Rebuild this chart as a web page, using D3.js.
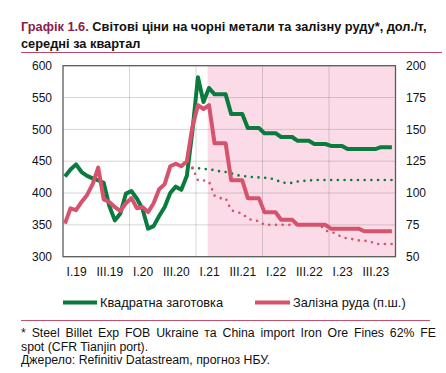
<!DOCTYPE html>
<html><head><meta charset="utf-8">
<script src="https://cdn.jsdelivr.net/npm/d3@7/dist/d3.min.js"></script>
<style>
html,body{margin:0;padding:0;background:#fff;}
svg{display:block;font-family:"Liberation Sans",Arial,sans-serif;}
</style></head>
<body>
<svg id="c" width="446" height="373"></svg>
<script>
// Monthly data, Jan 2019 .. Dec 2023 (index 0..59)
const billet = [426,437,445,433,427,423,420,416,380,357,
                368,399,403,391,375,344,348,364,378,400,
                410,405,427,497,582,543,565,555,555,555,
                524,524,524,502,502,502,494,494,494,488,
                488,488,482,482,482,477,477,477,474,474,
                474,469,469,469,469,469,469,472,472,472];
const ore = [76,88,86.5,93,98.5,107,120,95,93,89,
             86,92,96,88,89,85,92,103,107,121,
             123,121,125,152,169,166,169,139,139,139,
             110,110,110,96,96,96,85,85,85,79,
             79,79,75,75,75,75,75,75,72,72,
             72,72,72,72,70,70,70,70,70,70];
// Previous forecast (dotted), index 23..59
const prevStart = 23;
const billetPrev = [439,439,438,437,436,434,433,431,428,427,
                    426,425,424.5,424,423,421,417,415.5,416,418,
                    419,419.5,420.5,420.5,420.5,420.5,420.5,420.5,420.5,420.5,
                    420.5,420.5,420.5,420.5,420.5,420.5,420.5];
const orePrev = [120,110,110,109,98,96,96,86.5,85,84,
                 80,78.5,78,75,75,75,75,75,75,75,
                 75,75,75,75,70.5,69.6,68,65.2,64.5,63.7,
                 62.8,62.5,62.3,60,60,60,60];
const forecastStart = 26.1;
const xTickLabels = ["I.19","III.19","I.20","III.20","I.21","III.21","I.22","III.22","I.23","III.23"];
const leftTicks = [300,350,400,450,500,550,600];
const rightTicks = [50,75,100,125,150,175,200];
const titleRed = "Графік 1.6.";
const titleRest = " Світові ціни на чорні метали та залізну руду*, дол./т,";
const title2 = "середні за квартал";
const legendLabels = ["Квадратна заготовка","Залізна руда (п.ш.)"];
const notes = ["* Steel Billet Exp FOB Ukraine та China import Iron Ore Fines 62% FE",
               "spot (CFR Tianjin port).",
               "Джерело: Refinitiv Datastream, прогноз НБУ."];

const GREEN = "#0b7a3e", RED = "#d5536c", PINK = "#fbdbe7", MAROON = "#8a1c4c";
const svg = d3.select("#c");
const L = 63, R = 395.5, T = 65.7, B = 256.7;
const x = d3.scaleLinear().domain([0,60]).range([L,R]);
const yL = d3.scaleLinear().domain([300,600]).range([B,T]);
const yR = d3.scaleLinear().domain([50,200]).range([B,T]);
const off = 0.35;

// Title
const tt = svg.append("text").attr("x",21).attr("y",31).attr("font-size",12.8).attr("font-weight","bold");
tt.append("tspan").attr("fill",MAROON).text(titleRed);
tt.append("tspan").attr("fill","#111").text(titleRest);
svg.append("text").attr("x",21).attr("y",47.5).attr("font-size",12.8).attr("font-weight","bold").attr("fill","#111").text(title2);
svg.append("line").attr("x1",21).attr("x2",442).attr("y1",52.5).attr("y2",52.5).attr("stroke","#b94866").attr("stroke-width",1);

// Forecast shading
svg.append("rect").attr("x",x(forecastStart)).attr("y",T).attr("width",R-x(forecastStart)).attr("height",B-T).attr("fill",PINK);

// Gridlines
const g = svg.append("g");
g.selectAll(".hg").data(leftTicks.slice(1,-1)).join("line")
  .attr("x1",L).attr("x2",R).attr("y1",d=>yL(d)).attr("y2",d=>yL(d))
  .attr("stroke","rgba(120,120,120,0.3)").attr("stroke-width",1);
g.selectAll(".vg").data([12,24,36,48]).join("line")
  .attr("x1",d=>x(d)).attr("x2",d=>x(d)).attr("y1",T).attr("y2",B)
  .attr("stroke","rgba(120,120,120,0.3)").attr("stroke-width",1);

// Frame
svg.append("rect").attr("x",L).attr("y",T).attr("width",R-L).attr("height",B-T)
  .attr("fill","none").attr("stroke","#5a5a5a").attr("stroke-width",1.3);

// Axes labels
svg.selectAll(".yl").data(leftTicks).join("text").attr("x",52).attr("y",d=>yL(d)).attr("dy","0.35em")
  .attr("text-anchor","end").attr("font-size",12).attr("fill","#111").text(d=>d);
svg.selectAll(".yr").data(rightTicks).join("text").attr("x",406).attr("y",d=>yR(d)).attr("dy","0.35em")
  .attr("text-anchor","start").attr("font-size",12).attr("fill","#111").text(d=>d);
svg.selectAll(".xl").data(xTickLabels).join("text").attr("x",(d,i)=>x(6*i+2.45)).attr("y",275.5)
  .attr("text-anchor","middle").attr("font-size",12).attr("fill","#111").text(d=>d);

// Lines
const lineL = d3.line().x((d,i)=>x(i+off)).y(d=>yL(d));
const lineR = d3.line().x((d,i)=>x(i+off)).y(d=>yR(d));
const lineLp = d3.line().x((d,i)=>x(i+prevStart+off)).y(d=>yL(d));
const lineRp = d3.line().x((d,i)=>x(i+prevStart+off)).y(d=>yR(d));

svg.append("path").attr("d",lineLp(billetPrev)).attr("fill","none").attr("stroke",GREEN)
  .attr("stroke-width",2.6).attr("stroke-linecap","round").attr("stroke-dasharray","0 6.7");
svg.append("path").attr("d",lineRp(orePrev)).attr("fill","none").attr("stroke",RED)
  .attr("stroke-width",2.6).attr("stroke-linecap","round").attr("stroke-dasharray","0 6.7");
svg.append("path").attr("d",lineL(billet)).attr("fill","none").attr("stroke",GREEN)
  .attr("stroke-width",4).attr("stroke-linejoin","round");
svg.append("path").attr("d",lineR(ore)).attr("fill","none").attr("stroke",RED)
  .attr("stroke-width",4).attr("stroke-linejoin","round");

// Legend
const lg = [{c:GREEN,x1:63,x2:97,tx:100},{c:RED,x1:255,x2:290,tx:293}];
lg.forEach((d,i)=>{
  svg.append("line").attr("x1",d.x1).attr("x2",d.x2).attr("y1",302.5).attr("y2",302.5).attr("stroke",d.c).attr("stroke-width",4);
  svg.append("text").attr("x",d.tx).attr("y",302.5).attr("dy","0.35em").attr("font-size",12.8).attr("fill","#111").text(legendLabels[i]);
});

// Notes
svg.append("line").attr("x1",21).attr("x2",430).attr("y1",320.5).attr("y2",320.5).attr("stroke","#c4506c").attr("stroke-width",1);
const ny = [337,350.5,364];
notes.forEach((n,i)=>{
  const t = svg.append("text").attr("x",21).attr("y",ny[i]).attr("font-size",12.3).attr("fill","#111").text(n);
  if(i===0){
    const w = t.node().getComputedTextLength();
    const spaces = (n.match(/ /g)||[]).length;
    const extra = (436-21-w)/spaces;
    if(extra>0) t.attr("word-spacing",extra);
  }
});
</script>
</body></html>
